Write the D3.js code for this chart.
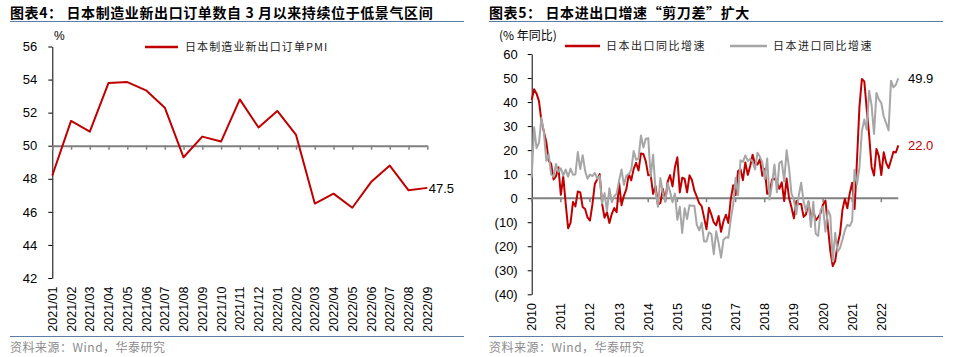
<!DOCTYPE html>
<html>
<head>
<meta charset="utf-8">
<script src="https://cdn.jsdelivr.net/npm/d3@7"></script>
<style>
  html, body { margin: 0; padding: 0; background: #fff; }
  svg { display: block; }
  text { font-family: "Liberation Sans", Arial, "Noto Sans CJK SC", sans-serif; }
  .cjk { font-family: "Noto Sans CJK SC", "Liberation Sans", sans-serif; }
</style>
</head>
<body>
<svg id="chart" width="956" height="357"></svg>
<script>
// ---------- Data: chart 4 ----------
const pmiCategories = ["2021/01","2021/02","2021/03","2021/04","2021/05","2021/06","2021/07","2021/08","2021/09","2021/10","2021/11","2021/12","2022/01","2022/02","2022/03","2022/04","2022/05","2022/06","2022/07","2022/08","2022/09"];
const pmiValues = [48.2,51.5,50.85,53.8,53.85,53.35,52.3,49.3,50.55,50.25,52.8,51.1,52.1,50.65,46.5,47.1,46.25,47.8,48.8,47.3,47.45];
const pmiYTicks = [42,44,46,48,50,52,54,56];
const pmiLastLabel = "47.5";

// ---------- Data: chart 5 (monthly, Jan 2010 - Aug 2022) ----------
const tradeStartYear = 2010;
const exportYoY = [
  40.9,45.3,43.5,40.4,32.1,27.7,23.5,15.5,14.4,7.8,9.1,12.9,
  1.4,9.0,-2.3,-12.5,-10.3,-1.6,-3.4,2.8,2.4,-3.7,-4.5,-8.0,
  -9.3,-2.7,5.9,7.9,10.0,-2.3,-8.1,-5.8,-10.3,-6.5,-4.1,-5.8,
  6.4,-2.9,1.1,3.8,10.1,7.4,12.2,14.7,11.5,18.6,18.4,15.3,
  9.5,9.8,1.8,5.1,-2.7,-2.0,3.9,-1.3,6.9,9.6,4.9,12.9,
  17.0,2.4,8.5,8.0,2.4,9.5,7.6,3.1,0.6,-2.1,-3.3,-8.0,
  -12.9,-4.0,-6.8,-10.1,-11.3,-7.4,-14.0,-9.6,-6.9,-10.3,-0.4,5.4,
  1.3,11.3,12.0,7.5,14.9,9.7,13.4,18.1,14.1,14.0,16.2,9.3,
  12.2,1.8,2.1,7.8,8.1,6.7,3.9,6.6,-1.2,8.2,0.1,-3.8,
  -8.4,-1.2,-2.4,-2.4,-7.8,-6.7,-1.6,-8.2,-5.2,-9.2,-7.9,-6.3,
  -2.6,-1.0,-11.7,-21.9,-28.3,-26.2,-19.2,-14.8,-4.9,-0.2,-4.2,2.0,
  6.4,-4.5,16.1,38.0,49.6,48.6,37.0,26.2,13.0,9.4,20.5,17.5,
  9.6,19.1,14.7,12.5,15.8,19.3,19.0,22.0
];
const importYoY = [
  8.6,29.5,20.8,23.0,33.5,27.7,15.6,18.3,9.9,8.9,14.2,10.9,
  12.4,9.4,11.9,8.9,12.3,9.8,9.9,19.2,12.1,17.9,11.4,8.1,
  9.8,9.2,10.5,8.1,9.3,-2.2,2.1,-5.4,4.1,-1.6,0.8,1.9,
  7.3,11.9,5.5,9.4,10.0,11.8,19.6,16.0,16.5,26.1,21.1,24.7,
  25.0,9.0,18.1,3.4,-3.6,8.4,2.3,-1.5,6.2,2.7,-1.7,1.9,
  -9.0,-3.6,-14.5,-4.2,-8.7,-2.9,-3.2,-3.1,-11.1,-13.4,-10.2,-18.0,
  -18.0,-14.2,-14.9,-23.3,-13.8,-18.8,-24.7,-17.3,-16.3,-16.5,-8.8,-2.6,
  8.5,1.2,15.8,15.1,17.8,15.5,16.3,15.2,12.0,18.9,17.2,14.9,
  7.9,16.5,-0.6,5.9,14.0,2.5,14.6,15.4,7.0,19.9,12.5,1.9,
  -0.6,-6.7,1.1,6.4,-1.5,-5.2,-1.2,-12.0,-1.5,-14.8,-15.7,-4.9,
  -3.6,-13.9,-5.0,-7.2,-26.2,-14.4,-22.3,-20.7,-17.2,-13.3,-11.1,-11.6,
  -9.5,11.8,5.7,12.8,27.9,32.7,28.5,44.7,38.6,26.7,43.8,41.1,
  39.6,34.0,31.2,28.2,48.9,46.1,47.2,49.9
];
const tradeYearTicks = [2010,2011,2012,2013,2014,2015,2016,2017,2018,2019,2020,2021,2022];
const tradeYTicks = [60,50,40,30,20,10,0,-10,-20,-30,-40];
const exportLastLabel = "22.0";
const importLastLabel = "49.9";

// ---------- Styles ----------
const RED = "#C00000";
const GREY = "#A6A6A6";
const AXIS_GREY = "#808080";
const RULE = "#5E7CA8";

const svg = d3.select("#chart");
svg.append("rect").attr("width", 956).attr("height", 357).attr("fill", "#fff");

// ---------- Headers / footers ----------
function header(x0, x1, title) {
  svg.append("text").attr("class", "cjk")
    .attr("x", x0).attr("y", 17.5)
    .attr("font-size", 14).attr("font-weight", 700)
    .attr("letter-spacing", 0.6)
    .attr("fill", "#000")
    .text(title);
  svg.append("line").attr("x1", x0).attr("x2", x1)
    .attr("y1", 21.5).attr("y2", 21.5)
    .attr("stroke", RULE).attr("stroke-width", 1.2);
  svg.append("line").attr("x1", x0).attr("x2", x1)
    .attr("y1", 336.5).attr("y2", 336.5)
    .attr("stroke", RULE).attr("stroke-width", 1.2);
  svg.append("text").attr("class", "cjk")
    .attr("x", x0).attr("y", 351.5)
    .attr("font-size", 12).attr("fill", "#8C8C8C")
    .attr("letter-spacing", 0.5)
    .text("资料来源：Wind，华泰研究");
}
header(10, 464, "图表4：  日本制造业新出口订单数自 3 月以来持续位于低景气区间");
header(489, 943, "图表5：  日本进出口增速“剪刀差”扩大");

function styleYAxis(g) {
  g.select(".domain").attr("stroke", "#000").attr("stroke-width", 1);
  g.selectAll(".tick line").attr("stroke", "#000");
  g.selectAll(".tick text")
    .attr("font-family", "'Liberation Sans', Arial, sans-serif")
    .attr("font-size", 13).attr("fill", "#000");
}

// ---------- Chart 4 ----------
(function () {
  const x = d3.scalePoint().domain(pmiCategories).range([52.3, 427.3]);
  const y = d3.scaleLinear().domain([42, 56]).range([278, 46.5]);

  const gy = svg.append("g").attr("transform", "translate(52.3,0)")
    .call(d3.axisLeft(y).tickValues(pmiYTicks).tickSize(4).tickSizeOuter(0).tickPadding(11));
  styleYAxis(gy);

  // baseline at 50
  const gx = svg.append("g").attr("transform", `translate(0,${y(50)})`)
    .call(d3.axisBottom(x).tickSize(4).tickSizeOuter(0).tickFormat(""));
  gx.select(".domain").attr("stroke", AXIS_GREY).attr("stroke-width", 2);
  gx.selectAll(".tick line").attr("stroke", AXIS_GREY).attr("stroke-width", 1.5);

  // category labels at bottom
  svg.append("g").selectAll("text").data(pmiCategories).join("text")
    .attr("transform", d => `translate(${x(d)},286.5) rotate(-90)`)
    .attr("text-anchor", "end").attr("dy", "0.36em")
    .attr("font-size", 12.5).attr("fill", "#000")
    .text(d => d);

  const line = d3.line().x((d, i) => x(pmiCategories[i])).y(d => y(d));
  svg.append("path").datum(pmiValues)
    .attr("d", line).attr("fill", "none")
    .attr("stroke", RED).attr("stroke-width", 2).attr("stroke-linejoin", "round");

  const li = pmiValues.length - 1;
  svg.append("text")
    .attr("x", x(pmiCategories[li]) + 1.5).attr("y", y(pmiValues[li]))
    .attr("dy", "0.36em").attr("font-size", 13).attr("fill", "#000")
    .text(pmiLastLabel);

  svg.append("text").attr("x", 54).attr("y", 39.5)
    .attr("font-size", 12).attr("fill", "#000").text("%");

  // legend
  svg.append("line").attr("x1", 145).attr("x2", 178).attr("y1", 47).attr("y2", 47)
    .attr("stroke", RED).attr("stroke-width", 2.5);
  svg.append("text").attr("class", "cjk").attr("x", 185).attr("y", 47)
    .attr("dy", "0.36em").attr("font-size", 11).attr("letter-spacing", 1.1)
    .attr("fill", "#222").text("日本制造业新出口订单PMI");
})();

// ---------- Chart 5 ----------
(function () {
  const x = d3.scaleLinear().domain([2010, 2022]).range([531.7, 881.3]);
  const y = d3.scaleLinear().domain([-40, 60]).range([294.3, 54]);
  const tx = i => x(tradeStartYear + i / 12);
  const last = exportYoY.length - 1;

  const gy = svg.append("g").attr("transform", "translate(531.7,0)")
    .call(d3.axisLeft(y).tickValues(tradeYTicks).tickSize(4).tickSizeOuter(0).tickPadding(10)
      .tickFormat(d => d < 0 ? `(${-d})` : `${d}`));
  styleYAxis(gy);

  // zero line with year ticks
  svg.append("line").attr("x1", x(2010)).attr("x2", tx(last))
    .attr("y1", y(0)).attr("y2", y(0))
    .attr("stroke", AXIS_GREY).attr("stroke-width", 2);
  svg.append("g").selectAll("line").data(tradeYearTicks).join("line")
    .attr("x1", d => x(d)).attr("x2", d => x(d))
    .attr("y1", y(0)).attr("y2", y(0) + 4)
    .attr("stroke", AXIS_GREY).attr("stroke-width", 1.5);

  svg.append("g").selectAll("text").data(tradeYearTicks).join("text")
    .attr("transform", d => `translate(${x(d)},303) rotate(-90)`)
    .attr("text-anchor", "end").attr("dy", "0.36em")
    .attr("font-size", 12.5).attr("fill", "#000")
    .text(d => d);

  const line = d3.line().x((d, i) => tx(i)).y(d => y(d));
  svg.append("path").datum(exportYoY).attr("d", line).attr("fill", "none")
    .attr("stroke", RED).attr("stroke-width", 2).attr("stroke-linejoin", "round");
  svg.append("path").datum(importYoY).attr("d", line).attr("fill", "none")
    .attr("stroke", GREY).attr("stroke-width", 2).attr("stroke-linejoin", "round");

  svg.append("text").attr("x", 908).attr("y", y(importYoY[last]) + 0.5)
    .attr("dy", "0.36em").attr("font-size", 13).attr("fill", "#000").text(importLastLabel);
  svg.append("text").attr("x", 908).attr("y", y(exportYoY[last]) + 0.5)
    .attr("dy", "0.36em").attr("font-size", 13).attr("fill", RED).text(exportLastLabel);

  svg.append("text").attr("class", "cjk").attr("x", 499).attr("y", 40)
    .attr("font-size", 12).attr("fill", "#000").text("(% 年同比)");

  // legend
  svg.append("line").attr("x1", 565).attr("x2", 600).attr("y1", 46).attr("y2", 46)
    .attr("stroke", RED).attr("stroke-width", 2.5);
  svg.append("text").attr("class", "cjk").attr("x", 606).attr("y", 46)
    .attr("dy", "0.36em").attr("font-size", 11).attr("letter-spacing", 1.5)
    .attr("fill", "#222").text("日本出口同比增速");
  svg.append("line").attr("x1", 730).attr("x2", 767).attr("y1", 46).attr("y2", 46)
    .attr("stroke", GREY).attr("stroke-width", 2.5);
  svg.append("text").attr("class", "cjk").attr("x", 773).attr("y", 46)
    .attr("dy", "0.36em").attr("font-size", 11).attr("letter-spacing", 1.5)
    .attr("fill", "#222").text("日本进口同比增速");
})();
</script>
</body>
</html>
